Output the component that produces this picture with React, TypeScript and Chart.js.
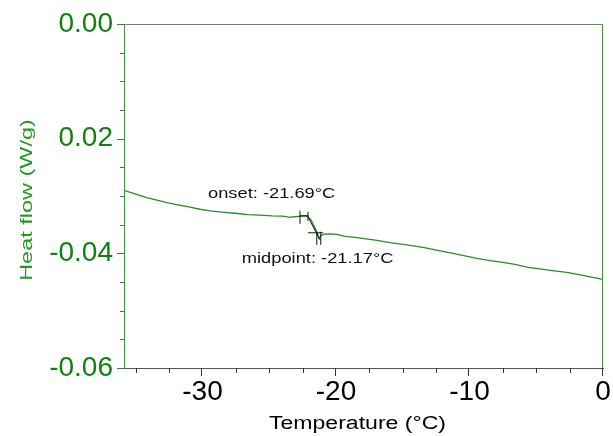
import React, { useEffect, useRef } from "react";
import { Chart, registerables } from "chart.js";

Chart.register(...registerables);

// Temperature (°C) and heat flow (W/g)
const temps = [
  -35.88, -35.06, -34.23, -33.41, -32.66, -31.84, -30.94, -30.19, -29.44, -28.54,
  -27.57, -26.59, -25.69, -24.79, -23.97, -23.45, -23.15, -22.7, -22.32, -22.1,
  -21.87, -21.65, -21.42, -21.27, -21.12, -20.9, -20.45, -19.93, -19.33, -18.58,
  -17.75, -16.93, -15.96, -14.98, -14.08, -13.18, -12.21, -11.24, -10.34, -9.44,
  -8.46, -7.49, -6.59, -5.62, -4.72, -3.82, -2.85, -1.87, -0.97, 0.0,
];
const heatFlow = [
  -0.029, -0.02961, -0.03022, -0.03074, -0.03114, -0.03153, -0.03196, -0.03231, -0.03258, -0.0328,
  -0.03301, -0.03324, -0.03333, -0.03345, -0.0335, -0.03373, -0.03362, -0.03354, -0.03348, -0.03359,
  -0.03415, -0.0352, -0.03642, -0.03738, -0.03694, -0.03665, -0.03659, -0.03668, -0.03703, -0.0372,
  -0.03747, -0.03773, -0.03813, -0.03843, -0.03874, -0.03909, -0.03956, -0.04, -0.04044, -0.04087,
  -0.04127, -0.04157, -0.04192, -0.04244, -0.04271, -0.043, -0.04328, -0.04367, -0.0441, -0.04454,
];

// Axis ticks
const xMajorTicks = [-30, -20, -10, 0];
const xTickLabels = ["-30", "-20", "-10", "0"];
const xMinorTicks = [-35, -32.5, -27.5, -25, -22.5, -17.5, -15, -12.5, -7.5, -5, -2.5];
const yMajorTicks = [0, -0.02, -0.04, -0.06];
const yTickLabels = ["0.00", "0.02", "-0.04", "-0.06"];
const yMinorTicks = [-0.005, -0.01, -0.015, -0.025, -0.03, -0.035, -0.045, -0.05, -0.055];
const xRange = [-35.88, 0];
const yRange = [-0.06, 0];
const xTitle = "Temperature (°C)";
const yTitle = "Heat flow (W/g)";

// Glass-transition markers: segments [x1, y1, x2, y2]
const onsetSegments = [
  [-22.7, -0.03345, -22.1, -0.03345],
  [-22.7, -0.03258, -22.7, -0.03485],
  [-22.1, -0.03276, -22.1, -0.03433],
  [-22.1, -0.03363, -21.19, -0.03765],
];
const midpointSegments = [
  [-22.1, -0.03642, -20.97, -0.03642],
  [-21.44, -0.03624, -21.44, -0.03851],
  [-21.14, -0.03624, -21.14, -0.03851],
];
const annotationTexts = ["onset: -21.69°C", "midpoint: -21.17°C"];
const annotationX = [-29.59, -27.06];
const annotationY = [-0.02961, -0.04096];

const GREEN_TEXT = "#108010";
const GREEN_LINE = "#3f9a3f";
const FONT = "'Liberation Sans', Arial, sans-serif";

function stretchedText(ctx: any, text: string, cx: number, cy: number, size: number, sx: number, rot: number, color: string) {
  ctx.save();
  ctx.translate(cx, cy);
  ctx.rotate(rot);
  ctx.scale(sx, 1);
  ctx.font = `${size}px ${FONT}`;
  ctx.fillStyle = color;
  ctx.textAlign = "center";
  ctx.textBaseline = "middle";
  ctx.fillText(text, 0, 0);
  ctx.restore();
}

const decorPlugin = {
  id: "decor",
  afterDatasetsDraw(chart: any) {
    const { ctx, chartArea, scales } = chart;
    const x = scales.x;
    const y = scales.y;
    ctx.save();
    // top and right frame
    ctx.lineWidth = 1;
    ctx.strokeStyle = "#7a7a7a";
    ctx.beginPath();
    ctx.moveTo(chartArea.left, chartArea.top + 0.5);
    ctx.lineTo(chartArea.right, chartArea.top + 0.5);
    ctx.stroke();
    ctx.strokeStyle = GREEN_LINE;
    ctx.beginPath();
    ctx.moveTo(chartArea.right - 0.5, chartArea.top);
    ctx.lineTo(chartArea.right - 0.5, chartArea.bottom);
    ctx.stroke();
    // x tick marks
    ctx.strokeStyle = "#333";
    const bx = chartArea.bottom;
    xMajorTicks.forEach((v) => {
      const px = Math.round(x.getPixelForValue(v)) - 0.5;
      ctx.beginPath();
      ctx.moveTo(px, bx);
      ctx.lineTo(px, bx + 8);
      ctx.stroke();
    });
    xMinorTicks.forEach((v) => {
      const px = Math.round(x.getPixelForValue(v)) + 0.5;
      ctx.beginPath();
      ctx.moveTo(px, bx);
      ctx.lineTo(px, bx + 5);
      ctx.stroke();
    });
    // y tick marks
    ctx.strokeStyle = "#4a6e4a";
    const lx = chartArea.left;
    yMajorTicks.forEach((v) => {
      const py = Math.round(y.getPixelForValue(v)) + 0.5;
      ctx.beginPath();
      ctx.moveTo(lx, py);
      ctx.lineTo(lx - 7, py);
      ctx.stroke();
    });
    yMinorTicks.forEach((v) => {
      const py = Math.round(y.getPixelForValue(v)) + 0.5;
      ctx.beginPath();
      ctx.moveTo(lx, py);
      ctx.lineTo(lx - 4, py);
      ctx.stroke();
    });
    // markers
    ctx.strokeStyle = "#111";
    ctx.lineWidth = 1;
    [...onsetSegments, ...midpointSegments].forEach((s) => {
      ctx.beginPath();
      ctx.moveTo(x.getPixelForValue(s[0]), y.getPixelForValue(s[1]));
      ctx.lineTo(x.getPixelForValue(s[2]), y.getPixelForValue(s[3]));
      ctx.stroke();
    });
    // annotation texts
    ctx.fillStyle = "#111";
    ctx.font = `15px ${FONT}`;
    ctx.textAlign = "left";
    ctx.textBaseline = "middle";
    annotationTexts.forEach((t, i) => {
      ctx.save();
      ctx.translate(x.getPixelForValue(annotationX[i]), y.getPixelForValue(annotationY[i]));
      ctx.scale(1.22, 1);
      ctx.fillText(t, 0, 0);
      ctx.restore();
    });
    // axis titles (stretched along the text direction like the reference)
    stretchedText(ctx, xTitle, (chartArea.left + chartArea.right) / 2 - 6, chart.height - 12, 18, 1.28, 0, "#000");
    stretchedText(ctx, yTitle, 27, (chartArea.top + chartArea.bottom) / 2 + 4, 17, 1.38, -Math.PI / 2, "#1f9a1f");
    ctx.restore();
  },
};

export default function App() {
  const ref = useRef<HTMLCanvasElement | null>(null);
  useEffect(() => {
    if (!ref.current) return;
    const chart = new Chart(ref.current, {
      type: "line",
      data: {
        datasets: [
          {
            data: temps.map((t, i) => ({ x: t, y: heatFlow[i] })),
            borderColor: "#2d8a2d",
            borderWidth: 1.3,
            pointRadius: 0,
            tension: 0,
            fill: false,
          },
        ],
      },
      options: {
        animation: false,
        responsive: false,
        maintainAspectRatio: false,
        layout: { padding: { top: 24, right: 10, left: 0, bottom: 0 } },
        plugins: { legend: { display: false }, tooltip: { enabled: false } },
        scales: {
          x: {
            type: "linear",
            min: xRange[0],
            max: xRange[1],
            afterBuildTicks: (s: any) => {
              s.ticks = xMajorTicks.map((v) => ({ value: v }));
            },
            afterFit: (s: any) => {
              s.height = 68;
              s.paddingLeft = 0;
              s.paddingRight = 0;
            },
            grid: { display: false, drawTicks: false },
            border: { display: true, color: "#555", width: 1 },
            ticks: {
              autoSkip: false,
              maxRotation: 0,
              padding: 7,
              color: "#000",
              font: { family: FONT, size: 28 },
              callback: (v: any) => {
                const i = xMajorTicks.indexOf(Number(v));
                return i >= 0 ? xTickLabels[i] : "";
              },
            },
            title: { display: false },
          },
          y: {
            type: "linear",
            min: yRange[0],
            max: yRange[1],
            afterBuildTicks: (s: any) => {
              s.ticks = yMajorTicks.map((v) => ({ value: v }));
            },
            afterFit: (s: any) => {
              s.width = 124;
              s.paddingTop = 0;
              s.paddingBottom = 0;
            },
            grid: { display: false, drawTicks: false },
            border: { display: true, color: GREEN_LINE, width: 1 },
            ticks: {
              autoSkip: false,
              padding: 11,
              color: GREEN_TEXT,
              font: { family: FONT, size: 28 },
              callback: (v: any) => {
                const i = yMajorTicks.findIndex((m) => Math.abs(m - Number(v)) < 1e-9);
                return i >= 0 ? yTickLabels[i] : "";
              },
            },
            title: { display: false },
          },
        },
      },
      plugins: [decorPlugin],
    });
    return () => chart.destroy();
  }, []);
  return (
    <div style={{ position: "fixed", left: 0, top: 0, width: 613, height: 436, background: "#fff" }}>
      <canvas ref={ref} width={613} height={436} style={{ display: "block" }} />
    </div>
  );
}
